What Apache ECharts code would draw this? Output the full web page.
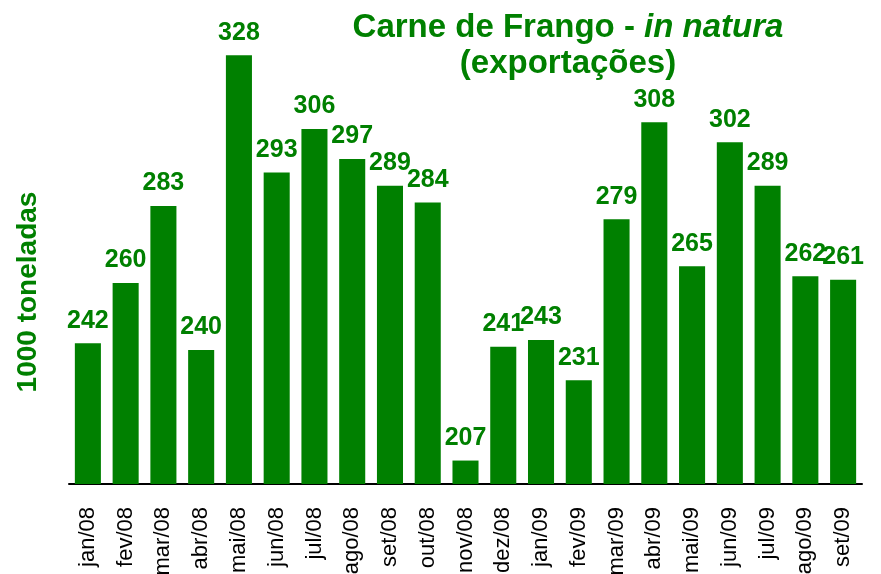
<!DOCTYPE html>
<html><head><meta charset="utf-8">
<script src="https://cdn.jsdelivr.net/npm/echarts@6/dist/echarts.min.js"></script>
<style>html,body{margin:0;padding:0;background:#fff}#c{width:881px;height:574px}</style>
</head><body><div id="c"></div>
<script>
var categories = ["jan/08","fev/08","mar/08","abr/08","mai/08","jun/08","jul/08","ago/08","set/08","out/08","nov/08","dez/08","jan/09","fev/09","mar/09","abr/09","mai/09","jun/09","jul/09","ago/09","set/09"];
var values = [242,260,283,240,328,293,306,297,289,284,207,241,243,231,279,308,265,302,289,262,261];
var titleLine1 = ['Carne de Frango - ', 'in natura'];
var titleLine2 = '(exportações)';
var yName = '1000 toneladas';
var green = '#008000';
var font = 'Liberation Sans, Arial';
var chart = echarts.init(document.getElementById('c'));
chart.setOption({
  animation: false,
  title: [{
    text: '{b|' + titleLine1[0] + '}{i|' + titleLine1[1] + '}',
    left: 568, top: 11, textAlign: 'center', padding: 0,
    textStyle: {
      rich: {
        b: {fontFamily: font, fontWeight: 'bold', fontSize: 33, color: green},
        i: {fontFamily: font, fontWeight: 'bold', fontStyle: 'italic', fontSize: 33, color: green}
      }
    }
  }, {
    text: titleLine2,
    left: 568, top: 47, textAlign: 'center', padding: 0,
    textStyle: {fontFamily: font, fontWeight: 'bold', fontSize: 33, color: green}
  }],
  graphic: [{
    type: 'text', x: 28, y: 292, rotation: Math.PI / 2,
    style: {text: yName, fontFamily: font, fontWeight: 'bold', fontSize: 28, fill: green, align: 'center', verticalAlign: 'middle'}
  }],
  grid: {left: 69, right: 19, top: 15, bottom: 90, outerBoundsMode: 'none', containLabel: false},
  xAxis: {
    type: 'category', data: categories,
    axisLine: {lineStyle: {color: '#000', width: 2}},
    axisTick: {show: false},
    axisLabel: {rotate: 90, margin: 23, fontFamily: font, fontSize: 22, color: '#000', interval: 0}
  },
  yAxis: {
    type: 'value', min: 200, max: 340,
    axisLine: {show: false}, axisTick: {show: false}, axisLabel: {show: false}, splitLine: {show: false}
  },
  series: [{
    type: 'bar', data: values, barCategoryGap: '31%',
    itemStyle: {color: green},
    label: {show: true, position: 'top', distance: 10, fontFamily: font, fontWeight: 'bold', fontSize: 25, color: green}
  }]
});
</script></body></html>
